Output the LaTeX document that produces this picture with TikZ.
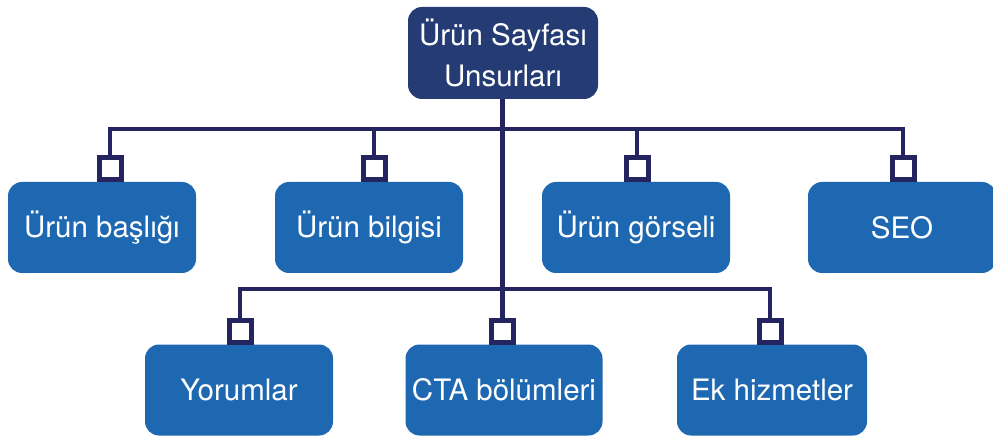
\documentclass[tikz,border=0pt]{standalone}
\usepackage{fontspec}
\setmainfont{TeX Gyre Heros}
\usepackage{xcolor}
\definecolor{kutu}{RGB}{30,103,177}
\definecolor{baslik}{RGB}{36,60,115}
\definecolor{hat}{RGB}{35,36,96}

\tikzset{
  kutu/.style = {rectangle, rounded corners=14pt, fill=kutu, text=white,
                 minimum width=188pt, minimum height=91pt, inner sep=0pt,
                 font=\fontsize{29.5}{34}\selectfont},
  ana/.style  = {kutu, fill=baslik, minimum width=190pt, minimum height=92pt,
                 align=center, font=\fontsize{29.5}{41}\selectfont},
  eklem/.style = {rectangle, draw=hat, line width=5pt, fill=white,
                 minimum size=22pt, inner sep=0pt, anchor=south},
  hatci/.style = {draw=hat, line width=4.7pt}
}

\begin{document}
\begin{tikzpicture}[x=1pt, y=-1pt]
  				\useasboundingbox (0, 0) rectangle (993, 438);
  				% ana kutu
  				\node[ana] (ana) at (503, 53) {Ürün Sayfası\\Unsurları};
  				% ilk sira
  				\node[kutu] (baslik) at (102, 227.5) {Ürün başlığı};
  				\node[kutu] (bilgi) at (369, 227.5) {Ürün bilgisi};
  				\node[kutu] (gorsel) at (636, 227.5) {Ürün görseli};
  				\node[kutu] (seo) at (902, 227.5) {SEO};
  				% ikinci sira
  				\node[kutu] (yorum) at (239, 390) {Yorumlar};
  				\node[kutu, minimum width=197pt] (cta) at (504, 390) {CTA bölümleri};
  				\node[kutu, minimum width=190pt] (ek) at (772, 390) {Ek hizmetler};
  				% baglanti kareleri
  				\node[eklem] (k-baslik) at (110, 182) {};
  				\node[eklem] (k-bilgi) at (374, 182) {};
  				\node[eklem] (k-gorsel) at (637, 182) {};
  				\node[eklem] (k-seo) at (903, 182) {};
  				\node[eklem] (k-yorum) at (240, 345) {};
  				\node[eklem] (k-cta) at (502.5, 345) {};
  				\node[eklem] (k-ek) at (770, 345) {};
  				\coordinate (hat1) at (502.5, 129);
  				\coordinate (hat2) at (502.5, 289);
  				% hatlar
  				\draw[hatci] (ana.south -| k-cta.north) -- (k-cta.north);
  				\draw[hatci] (k-baslik.north) |- (hat1) -| (k-seo.north);
  				\draw[hatci] (k-bilgi.north) -- (k-bilgi.north |- hat1);
  				\draw[hatci] (k-gorsel.north) -- (k-gorsel.north |- hat1);
  				\draw[hatci] (k-yorum.north) |- (hat2) -| (k-ek.north);
\end{tikzpicture}
\end{document}
